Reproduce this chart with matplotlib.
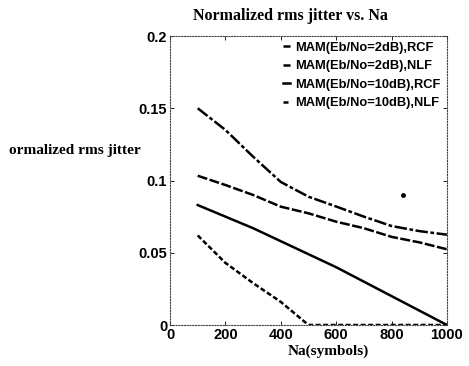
import numpy as np
import matplotlib
matplotlib.use('Agg')
import matplotlib.pyplot as plt

# Данные
na = [100, 200, 300, 400, 500, 600, 700, 800, 900, 1000]
rcf_2db = [0.150, 0.135, 0.1165, 0.099, 0.0888, 0.082, 0.075, 0.0685, 0.065, 0.0625]
nlf_2db = [0.1033, 0.0969, 0.090, 0.0819, 0.0773, 0.0715, 0.067, 0.061, 0.0572, 0.0524]
rcf_10db = [0.083, 0.075, 0.067, 0.058, 0.049, 0.040, 0.030, 0.020, 0.010, 0.0]
nlf_10db = [0.062, 0.043, 0.029, 0.016, 0.0, 0.0, 0.0, 0.0, 0.0, 0.0]
speck_x = [842]
speck_y = [0.09]

labels = ['MAM(Eb/No=2dB),RCF', 'MAM(Eb/No=2dB),NLF',
          'MAM(Eb/No=10dB),RCF', 'MAM(Eb/No=10dB),NLF']
x_ticks = [0, 200, 400, 600, 800, 1000]
y_ticks = [0, 0.05, 0.1, 0.15, 0.2]
y_tick_labels = ['0', '0.05', '0.1', '0.15', '0.2']

fig = plt.figure(figsize=(4.69, 3.66), dpi=100)
ax = fig.add_axes([0.3625, 0.112, 0.5905, 0.7896])

series = [rcf_2db, nlf_2db, rcf_10db, nlf_10db]
# штрихи плотные: на скане линии выглядят почти сплошными
styles = [(0, (5, 1, 1.5, 1)), (0, (4, 1)), '-', (0, (2, 1))]
for vals, ls, lab in zip(series, styles, labels):
    ax.plot(na, vals, color='black', linestyle=ls, linewidth=1.8, label=lab)

ax.plot(speck_x, speck_y, 'o', color='black', markersize=2.5)

ax.set_xlim(0, 1000)
ax.set_ylim(0, 0.2)
ax.set_xticks(x_ticks)
ax.set_yticks(y_ticks)
ax.set_yticklabels(y_tick_labels)
ax.tick_params(direction='in', top=True, right=True, length=3, width=0.6,
               labelsize=10.5, pad=2)
for lab in ax.get_xticklabels() + ax.get_yticklabels():
    lab.set_fontfamily('Liberation Sans')
    lab.set_fontweight('bold')

for sp in ax.spines.values():
    sp.set_linestyle((0, (1, 1.5)))
    sp.set_linewidth(0.8)
    sp.set_color('#444444')

leg = ax.legend(loc='upper right', bbox_to_anchor=(1.02, 1.02), frameon=False,
                handlelength=0.6, handletextpad=0.4, labelspacing=0.5,
                prop={'family': 'Liberation Sans', 'weight': 'bold', 'size': 9.3})

fig.text(0.62, 0.955, 'Normalized rms jitter vs. Na', ha='center', va='center',
         family='Liberation Serif', weight='bold', fontsize=11.5)
fig.text(0.02, 0.59, 'ormalized rms jitter', ha='left', va='center',
         family='Liberation Serif', weight='bold', fontsize=11)
fig.text(0.70, 0.04, 'Na(symbols)', ha='center', va='center',
         family='Liberation Serif', weight='bold', fontsize=11)

fig.savefig('out.png', dpi=100)
